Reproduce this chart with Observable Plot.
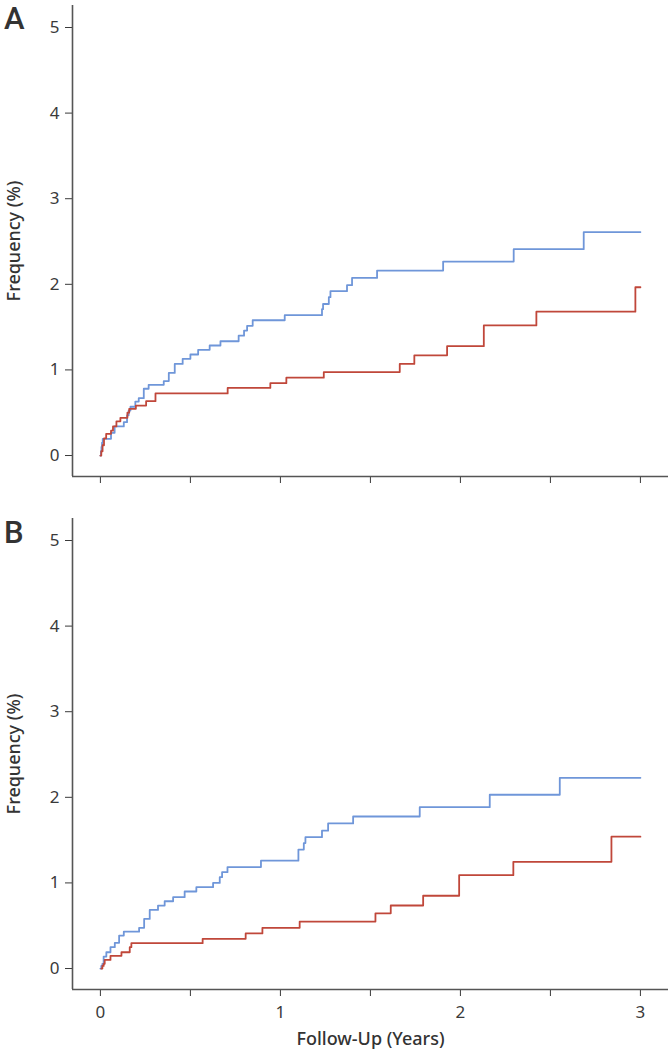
<!DOCTYPE html>
<html><head><meta charset="utf-8">
<script src="https://cdn.jsdelivr.net/npm/d3@7"></script>
<script src="https://cdn.jsdelivr.net/npm/@observablehq/plot@0.6"></script>
<style>
body{margin:0;background:#fff;font-family:"Noto Sans",sans-serif;}
#wrap{position:relative;width:668px;height:1053px;overflow:hidden;}
.panel{position:absolute;left:0;}
.letter{position:absolute;left:4px;font-family:Roboto,"Noto Sans",sans-serif;font-size:31px;line-height:normal;font-weight:500;color:#333;}
svg [aria-label$="axis label"] text{font-weight:500;font-size:18px;fill:#333;}
</style></head><body>
<div id="wrap">
  <div class="panel" id="pa" style="top:0"></div>
  <div class="panel" id="pb" style="top:500px"></div>
  <div class="letter" style="top:0px">A</div>
  <div class="letter" style="top:514px">B</div>
</div>
<script>
// Panel A — blue series (time in years, cumulative frequency %)
const aBlueT = [0, 0.003, 0.006, 0.009, 0.013, 0.059, 0.079, 0.13, 0.148, 0.157, 0.167, 0.194, 0.213, 0.241, 0.268, 0.352, 0.38, 0.413, 0.457, 0.5, 0.543, 0.607, 0.667, 0.768, 0.798, 0.815, 0.846, 1.024, 1.231, 1.237, 1.269, 1.278, 1.37, 1.398, 1.537, 1.904, 2.296, 2.685, 3.0];
const aBlueV = [0, 0.05, 0.1, 0.15, 0.195, 0.265, 0.34, 0.39, 0.47, 0.525, 0.57, 0.63, 0.67, 0.78, 0.826, 0.87, 0.965, 1.07, 1.13, 1.18, 1.235, 1.285, 1.335, 1.40, 1.46, 1.515, 1.58, 1.64, 1.71, 1.77, 1.85, 1.92, 1.99, 2.075, 2.16, 2.266, 2.41, 2.61, 2.61];
// Panel A — red series
const aRedT = [0, 0.005, 0.012, 0.02, 0.032, 0.059, 0.07, 0.089, 0.111, 0.15, 0.16, 0.197, 0.254, 0.306, 0.707, 0.944, 1.033, 1.241, 1.663, 1.744, 1.926, 2.13, 2.422, 2.972, 3.0];
const aRedV = [0, 0.05, 0.12, 0.2, 0.253, 0.29, 0.34, 0.40, 0.44, 0.50, 0.545, 0.584, 0.635, 0.725, 0.79, 0.845, 0.91, 0.975, 1.07, 1.17, 1.277, 1.52, 1.68, 1.966, 1.966];
// Panel B — blue series
const bBlueT = [0, 0.005, 0.011, 0.018, 0.033, 0.056, 0.08, 0.104, 0.13, 0.215, 0.243, 0.274, 0.32, 0.357, 0.404, 0.468, 0.533, 0.626, 0.663, 0.676, 0.706, 0.892, 1.10, 1.13, 1.139, 1.231, 1.265, 1.404, 1.774, 2.163, 2.552, 3.0];
const bBlueV = [0, 0.03, 0.055, 0.14, 0.19, 0.25, 0.30, 0.385, 0.43, 0.475, 0.58, 0.685, 0.735, 0.786, 0.833, 0.90, 0.95, 1.00, 1.067, 1.125, 1.185, 1.26, 1.39, 1.465, 1.534, 1.61, 1.695, 1.776, 1.885, 2.03, 2.228, 2.228];
// Panel B — red series
const bRedT = [0.005, 0.011, 0.018, 0.024, 0.056, 0.117, 0.163, 0.172, 0.568, 0.807, 0.9, 1.107, 1.528, 1.613, 1.793, 1.993, 2.294, 2.839, 3.0];
const bRedV = [0, 0.03, 0.055, 0.10, 0.148, 0.19, 0.25, 0.296, 0.347, 0.41, 0.475, 0.549, 0.645, 0.736, 0.85, 1.09, 1.246, 1.54, 1.54];

const xTicks = [0, 0.5, 1, 1.5, 2, 2.5, 3];
const xTickLabels = ["0", "", "1", "", "2", "", "3"];
const yTicks = [0, 1, 2, 3, 4, 5];
const yLabel = "Frequency (%)";
const xLabel = "Follow-Up (Years)";

const BLUE = "#6f96d9";
const RED = "#c0473a";
const AXIS = "#555";
const xDom = [-0.155, 3.156];
const yDom = [-0.245, 5.257];

const rows = (T, V) => T.map((t, i) => ({t, v: V[i]}));

function panel({blue, red, height, marginTop, marginBottom, showX}) {
  return Plot.plot({
    width: 668,
    height,
    marginLeft: 72,
    marginRight: 0,
    marginTop,
    marginBottom,
    style: {fontFamily: '"Noto Sans", sans-serif', fontSize: "17px", color: "#3a3a3a", background: "#fff", overflow: "visible"},
    x: {
      domain: xDom,
      ticks: xTicks,
      tickSize: 7,
      tickPadding: 9,
      tickFormat: showX ? (d) => xTickLabels[xTicks.indexOf(d)] : () => "",
      label: showX ? xLabel : null,
      labelAnchor: "center",
      labelOffset: 55,
      labelArrow: "none"
    },
    y: {
      domain: yDom,
      ticks: yTicks,
      tickSize: 7,
      tickPadding: 6,
      tickFormat: (d) => String(d),
      label: yLabel,
      labelAnchor: "center",
      labelOffset: 65,
      labelArrow: "none"
    },
    marks: [
      Plot.ruleX([xDom[0]], {stroke: AXIS, strokeWidth: 1.6}),
      Plot.ruleY([yDom[0]], {stroke: AXIS, strokeWidth: 1.6}),
      Plot.line(blue, {x: "t", y: "v", stroke: BLUE, strokeWidth: 1.8, curve: "step-after"}),
      Plot.line(red, {x: "t", y: "v", stroke: RED, strokeWidth: 1.8, curve: "step-after"})
    ]
  });
}

document.getElementById("pa").append(panel({
  blue: rows(aBlueT, aBlueV), red: rows(aRedT, aRedV),
  height: 500, marginTop: 5, marginBottom: 24, showX: false
}));
document.getElementById("pb").append(panel({
  blue: rows(bBlueT, bBlueV), red: rows(bRedT, bRedV),
  height: 553, marginTop: 18, marginBottom: 64, showX: true
}));
</script>
</body></html>
